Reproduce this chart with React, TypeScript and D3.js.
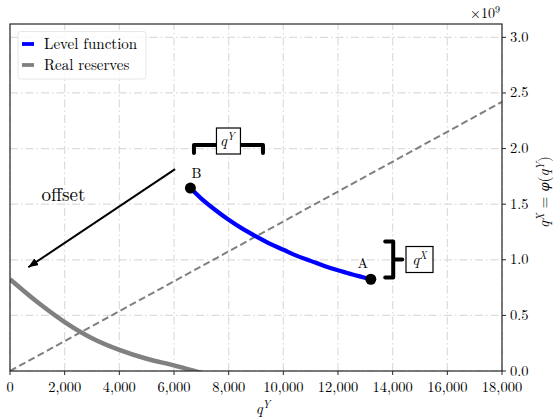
import React from 'react';
import * as d3 from 'd3';

// values
const xTicks = [0, 2000, 4000, 6000, 8000, 10000, 12000, 14000, 16000, 18000];
const yTicks = [0, 0.5e9, 1.0e9, 1.5e9, 2.0e9, 2.5e9, 3.0e9];
const yTickLabels = ['0.0', '0.5', '1.0', '1.5', '2.0', '2.5', '3.0'];

const levelX = [6600, 7000, 7500, 8000, 8500, 9000, 9500, 10000, 10500, 11000, 11500, 12000, 12500, 13200];
const levelY = [1.645e9, 1.55e9, 1.45e9, 1.36e9, 1.28e9, 1.21e9, 1.145e9, 1.09e9, 1.035e9, 0.99e9, 0.945e9, 0.905e9, 0.87e9, 0.825e9];

const reserveX = [0, 1000, 2000, 3000, 4000, 5000, 6000, 6750, 7200];
const reserveY = [0.825e9, 0.62e9, 0.44e9, 0.295e9, 0.19e9, 0.11e9, 0.05e9, 0, -0.03e9];

const diagX = [0, 18000];
const diagY = [0, 2.42e9];

const offsetFrom = [6040, 1.815e9];
const offsetTo = [670, 0.933e9];

const W = 558;
const H = 419;
const margin = { left: 10, right: 56, top: 24, bottom: 48 };
const serif = 'Latin Modern Roman, CMU Serif, Liberation Serif, serif';

export default function App() {
  const x = d3.scaleLinear().domain([0, 18000]).range([margin.left, W - margin.right]);
  const y = d3.scaleLinear().domain([0, 3.12e9]).range([H - margin.bottom, margin.top]);
  const [x0, x1] = x.range();
  const [y0, y1] = y.range();

  const line = d3
    .line<[number, number]>()
    .x((d) => x(d[0]))
    .y((d) => y(d[1]))
    .curve(d3.curveMonotoneX);

  const levelPts = levelX.map((v, i) => [v, levelY[i]] as [number, number]);
  const reservePts = reserveX.map((v, i) => [v, reserveY[i]] as [number, number]);
  const diagPts = diagX.map((v, i) => [v, diagY[i]] as [number, number]);

  const fmt = d3.format(',');
  const A = levelPts[levelPts.length - 1];
  const B = levelPts[0];

  // bracket over q^Y
  const tbL = x(6730), tbR = x(9255), tbY = y(2.032e9);
  const tbBox = { cx: (tbL + tbR) / 2, cy: tbY - 4 };
  // bracket beside q^X
  const rbX = x(14020), rbT = y(1.165e9), rbB = y(0.84e9);
  const rbMid = (rbT + rbB) / 2;

  const qSup = (base: string, sup: string, size: number) => (
    <>
      <tspan fontStyle="italic">{base}</tspan>
      <tspan fontStyle="italic" fontSize={size * 0.7} dy={-size * 0.4}>{sup}</tspan>
    </>
  );

  return (
    <svg width={W} height={H} style={{ position: 'absolute', left: 0, top: 0 }}>
      <defs>
        <clipPath id="plot">
          <rect x={x0} y={y1} width={x1 - x0} height={y0 - y1} />
        </clipPath>
        <marker id="head" viewBox="0 0 10 8" refX="10" refY="4" markerWidth="10" markerHeight="8" markerUnits="userSpaceOnUse" orient="auto">
          <path d="M0,0 L10,4 L0,8 Z" fill="#000" />
        </marker>
      </defs>
      <rect width={W} height={H} fill="#fff" />
      <g fontFamily={serif}>
        {/* grid */}
        <g stroke="#dcdcdc" strokeWidth={1.2} strokeDasharray="8,3,1.5,3">
          {xTicks.map((t) => (
            <line key={'gx' + t} x1={x(t)} x2={x(t)} y1={y0} y2={y1} />
          ))}
          {yTicks.map((t) => (
            <line key={'gy' + t} x1={x0} x2={x1} y1={y(t)} y2={y(t)} />
          ))}
        </g>

        <g clipPath="url(#plot)" fill="none">
          <path d={line(diagPts) || ''} stroke="#808080" strokeWidth={2} strokeDasharray="7,3.5" />
          <path d={line(reservePts) || ''} stroke="#808080" strokeWidth={4.5} />
          <path d={line(levelPts) || ''} stroke="#0000ff" strokeWidth={4.2} />
        </g>

        {/* points A and B */}
        <circle cx={x(A[0])} cy={y(A[1])} r={5.5} fill="#000" />
        <circle cx={x(B[0])} cy={y(B[1])} r={5.5} fill="#000" />
        <text x={x(A[0]) - 8} y={y(A[1]) - 11.5} fontSize={14} textAnchor="middle">A</text>
        <text x={x(B[0]) + 6} y={y(B[1]) - 10.5} fontSize={14} textAnchor="middle">B</text>

        {/* offset arrow */}
        <line
          x1={x(offsetFrom[0])} y1={y(offsetFrom[1])}
          x2={x(offsetTo[0])} y2={y(offsetTo[1])}
          stroke="#000" strokeWidth={2} markerEnd="url(#head)"
        />
        <text x={41.5} y={201} fontSize={19}>offset</text>

        {/* top bracket */}
        <path
          d={`M${tbL},${tbY + 8} L${tbL},${tbY} L${tbR},${tbY} L${tbR},${tbY + 8}`}
          fill="none" stroke="#000" strokeWidth={4} strokeLinejoin="round" strokeLinecap="round"
        />
        <rect x={tbBox.cx - 12} y={tbBox.cy - 13} width={24} height={26} fill="#fff" stroke="#000" strokeWidth={1.2} />
        <text x={tbBox.cx - 1} y={tbBox.cy + 5} fontSize={15} textAnchor="middle">{qSup('q', 'Y', 15)}</text>

        {/* right bracket */}
        <path
          d={`M${rbX - 8},${rbT} L${rbX},${rbT} L${rbX},${rbB} L${rbX - 8},${rbB} M${rbX},${rbMid} L${rbX + 9},${rbMid}`}
          fill="none" stroke="#000" strokeWidth={4} strokeLinejoin="round" strokeLinecap="round"
        />
        <rect x={406} y={rbMid - 13} width={27} height={26} fill="#fff" stroke="#000" strokeWidth={1.2} />
        <text x={419.5} y={rbMid + 5} fontSize={15} textAnchor="middle">{qSup('q', 'X', 15)}</text>

        {/* frame */}
        <rect x={x0} y={y1} width={x1 - x0} height={y0 - y1} fill="none" stroke="#262626" strokeWidth={1.2} />

        {/* x axis */}
        <g fontSize={14.5} textAnchor="middle" fill="#000">
          {xTicks.map((t) => (
            <g key={'tx' + t}>
              <line x1={x(t)} x2={x(t)} y1={y0} y2={y0 + 4} stroke="#262626" strokeWidth={1} />
              <text x={x(t)} y={y0 + 21}>{fmt(t)}</text>
            </g>
          ))}
        </g>
        <text x={263} y={413.5} fontSize={15} textAnchor="middle">{qSup('q', 'Y', 15)}</text>

        {/* right y axis */}
        <g fontSize={14.5} fill="#000">
          {yTicks.map((t, i) => (
            <g key={'ty' + t}>
              <line x1={x1} x2={x1 + 4} y1={y(t)} y2={y(t)} stroke="#262626" strokeWidth={1} />
              <text x={x1 + 8} y={y(t) + 4.5}>{yTickLabels[i]}</text>
            </g>
          ))}
        </g>
        <text x={470} y={18} fontSize={14}>
          ×10<tspan fontSize={10} dy={-5}>9</tspan>
        </text>
        <text transform={`translate(549,${192}) rotate(-90)`} fontSize={15} textAnchor="middle">
          <tspan fontStyle="italic">q</tspan>
          <tspan fontStyle="italic" fontSize={10.5} dy={-5}>X</tspan>
          <tspan dy={5}> = </tspan>
          <tspan fontStyle="italic" fontFamily="DejaVu Serif" fontSize={13}>φ</tspan>
          <tspan>(</tspan>
          <tspan fontStyle="italic">q</tspan>
          <tspan fontStyle="italic" fontSize={10.5} dy={-5}>Y</tspan>
          <tspan dy={5}>)</tspan>
        </text>

        {/* legend */}
        <g>
          <rect x={18} y={31.5} width={128} height={47.5} rx={2.5} fill="#fff" fillOpacity={0.8} stroke="#e6e6e6" strokeWidth={1} />
          <line x1={22} x2={34} y1={44} y2={44} stroke="#0000ff" strokeWidth={3.8} />
          <text x={44} y={49} fontSize={15}>Level function</text>
          <line x1={22} x2={34} y1={65} y2={65} stroke="#808080" strokeWidth={3.8} />
          <text x={44} y={70} fontSize={15}>Real reserves</text>
        </g>
      </g>
    </svg>
  );
}
